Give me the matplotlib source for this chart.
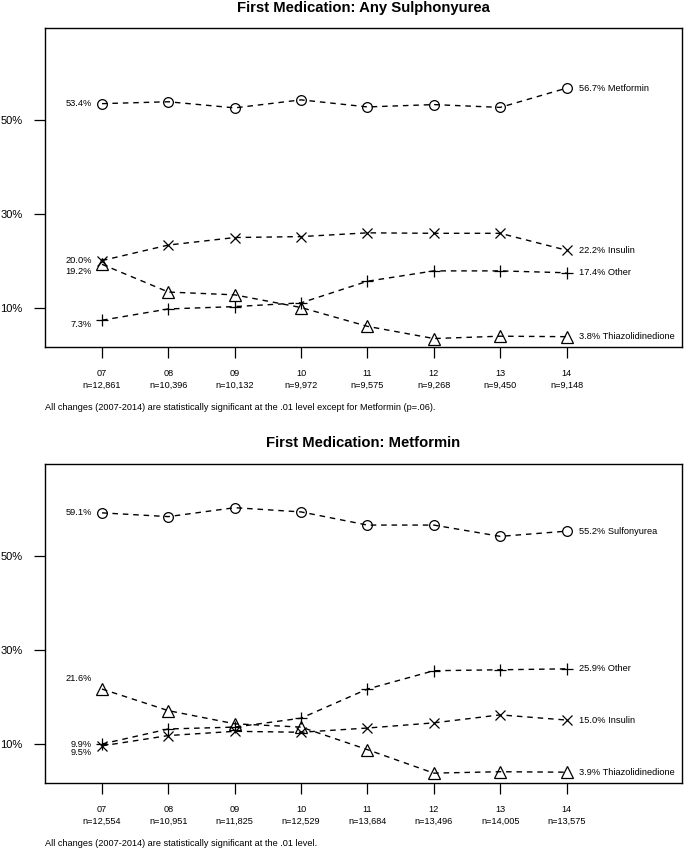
import numpy as np
import matplotlib
matplotlib.use('Agg')
import matplotlib.pyplot as plt

plt.rcParams['font.family'] = ['Liberation Sans', 'DejaVu Sans']

# survey years and sample sizes
years = ['07', '08', '09', '10', '11', '12', '13', '14']
n_sulph = ['12,861', '10,396', '10,132', '9,972', '9,575', '9,268', '9,450', '9,148']
n_metf = ['12,554', '10,951', '11,825', '12,529', '13,684', '13,496', '14,005', '13,575']

# panel 1: first medication any sulphonyurea (% on second medication)
metformin_1 = [53.4, 53.8, 52.5, 54.2, 52.7, 53.2, 52.6, 56.7]
insulin_1 = [20.0, 23.3, 24.9, 25.1, 25.9, 25.8, 25.8, 22.2]
other_1 = [7.3, 9.7, 10.2, 11.0, 15.6, 17.8, 17.8, 17.4]
thiazol_1 = [19.2, 13.3, 12.7, 10.0, 6.0, 3.4, 3.9, 3.8]

# panel 2: first medication metformin
sulfonyurea_2 = [59.1, 58.3, 60.2, 59.3, 56.5, 56.5, 54.1, 55.2]
other_2 = [9.9, 13.1, 13.5, 15.4, 21.6, 25.5, 25.7, 25.9]
insulin_2 = [9.5, 11.7, 12.6, 12.4, 13.3, 14.4, 16.1, 15.0]
thiazol_2 = [21.6, 17.0, 14.2, 13.5, 8.7, 3.7, 4.0, 3.9]

x = np.arange(1, len(years) + 1)
W, H = 685, 850
PX = 0.72  # points per pixel at dpi 100

fig = plt.figure(figsize=(W / 100, H / 100), dpi=100)


def panel(top_px, bottom_px, title, title_y, series, left_labels, nvals, note, note_y):
    ax = fig.add_axes([45 / W, 1 - bottom_px / H, 637 / W, (bottom_px - top_px) / H])
    for vals, marker, ms, name in series:
        ax.plot(x, vals, ls=(0, (4, 3.5)), color='black', lw=1.0,
                marker=marker, ms=ms, mfc='none', mec='black', mew=0.9)
        ax.annotate(f'{vals[-1]:.1f}% {name}', (x[-1], vals[-1]),
                    xytext=(12 * PX, 0), textcoords='offset points',
                    ha='left', va='center', fontsize=6.7)
    for val, dy in left_labels:
        ax.annotate(f'{val:.1f}%', (x[0], val), xytext=(-10 * PX, dy * PX),
                    textcoords='offset points', ha='right', va='center', fontsize=6.7)
    ax.set_xlim(0.141, 9.74)
    ax.set_ylim(1.6, 69.5)
    ax.set_yticks([10, 30, 50], ['10%', '30%', '50%'])
    ax.set_xticks(x, [f'{y}\nn={n}' for y, n in zip(years, nvals)])
    ax.tick_params(axis='y', length=8, width=0.9, pad=8, labelsize=8)
    ax.tick_params(axis='x', length=8, width=0.9, pad=8, labelsize=6.6)
    for lab in ax.get_xticklabels():
        lab.set_linespacing(1.4)
    for s in ax.spines.values():
        s.set_linewidth(1.0)
    fig.text(363.5 / W, 1 - title_y / H, title, ha='center', va='center',
             fontsize=10.7, fontweight='bold')
    fig.text(45 / W, 1 - note_y / H, note, ha='left', va='center', fontsize=6.6)
    return ax


panel(28, 347, 'First Medication: Any Sulphonyurea', 8,
      [(metformin_1, 'o', 7.0, 'Metformin'),
       (insulin_1, 'x', 7.0, 'Insulin'),
       (other_1, '+', 9.0, 'Other'),
       (thiazol_1, '^', 8.0, 'Thiazolidinedione')],
      [(metformin_1[0], 0), (insulin_1[0], 0), (thiazol_1[0], -7), (other_1[0], -4)],
      n_sulph,
      'All changes (2007-2014) are statistically significant at the .01 level except for Metformin (p=.06).',
      408)

panel(464, 783, 'First Medication: Metformin', 443,
      [(sulfonyurea_2, 'o', 7.0, 'Sulfonyurea'),
       (other_2, '+', 9.0, 'Other'),
       (insulin_2, 'x', 7.0, 'Insulin'),
       (thiazol_2, '^', 8.0, 'Thiazolidinedione')],
      [(sulfonyurea_2[0], 0), (thiazol_2[0], 11), (other_2[0], 0), (insulin_2[0], -7)],
      n_metf,
      'All changes (2007-2014) are statistically significant at the .01 level.',
      843)

fig.savefig('out.png', dpi=100)
